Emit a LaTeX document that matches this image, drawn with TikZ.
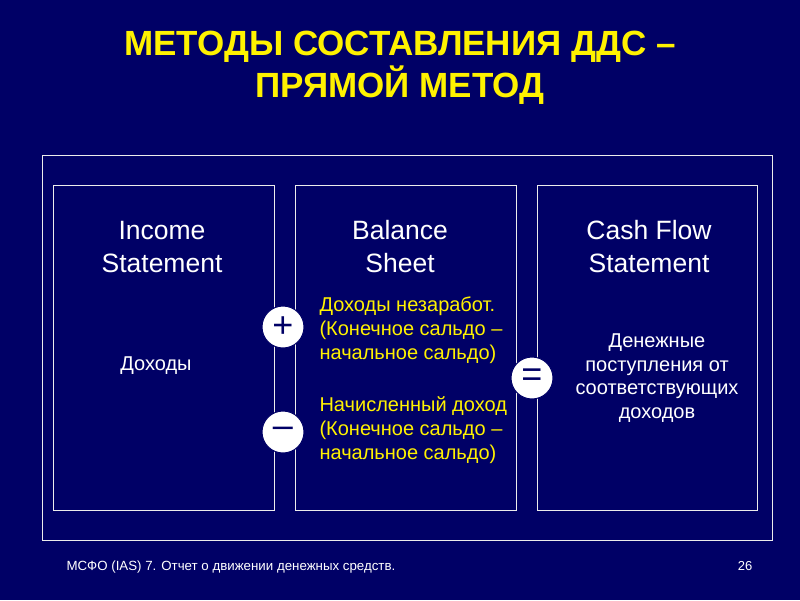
\documentclass[tikz,border=0pt]{standalone}
\usepackage{fontspec}
\setmainfont{Liberation Sans}
\begin{document}
\begin{tikzpicture}[x=1pt,y=-1pt,
  panel/.style={draw=white!85!gray,line width=0.8pt},
  head/.style={white,font=\fontsize{26.5}{33}\selectfont,align=center},
  body/.style={yellow,font=\fontsize{20}{24}\selectfont,align=left},
  bodyw/.style={white,font=\fontsize{20}{23.5}\selectfont,align=center},
  op/.style={circle,fill=white,draw=navy,line width=1pt,minimum size=42pt,inner sep=0pt,text=navy,font=\fontsize{36}{36}\selectfont}]
\definecolor{navy}{RGB}{0,0,102}
\definecolor{bg}{RGB}{0,0,102}
\fill[bg] (0,0) rectangle (800,600);
\useasboundingbox (0,0) rectangle (800,600);
\node[yellow,font=\bfseries\fontsize{35}{42}\selectfont,align=center] (title) at (400,68) {МЕТОДЫ СОСТАВЛЕНИЯ ДДС –\\ПРЯМОЙ МЕТОД};
\draw[panel] (42,155) rectangle (772,540);
\draw[panel] (53,185) rectangle (274,510);
\draw[panel] (295,185) rectangle (516,510);
\draw[panel] (537,185) rectangle (757,510);
\node[head] (h1) at (162,247) {Income\\ Statement};
\node[head] (h2) at (400,247) {Balance\\ Sheet};
\node[head] (h3) at (649,247) {Cash Flow\\Statement};
\node[bodyw] (d1) at (156,366) {Доходы};
\node[body,anchor=west] (b1) at (316,330) {Доходы незаработ.\\(Конечное сальдо –\\начальное сальдо)};
\node[body,anchor=west] (b2) at (316,430) {Начисленный доход\\(Конечное сальдо –\\начальное сальдо)};
\node[bodyw] (c1) at (657,378) {Денежные\\поступления от\\соответствующих\\доходов};
\node[op] (plus) at (283,327) {+};
\node[op] (minus) at (283,432) {–};
\node[op] (eq) at (532,378) {=};
\node[white,font=\fontsize{13.3}{15}\selectfont,anchor=west] (foot) at (63,567) {МСФО (IAS) 7. Отчет о движении денежных средств.};
\node[white,font=\fontsize{13}{15}\selectfont] (pg) at (745,566) {26};
\end{tikzpicture}
\end{document}
